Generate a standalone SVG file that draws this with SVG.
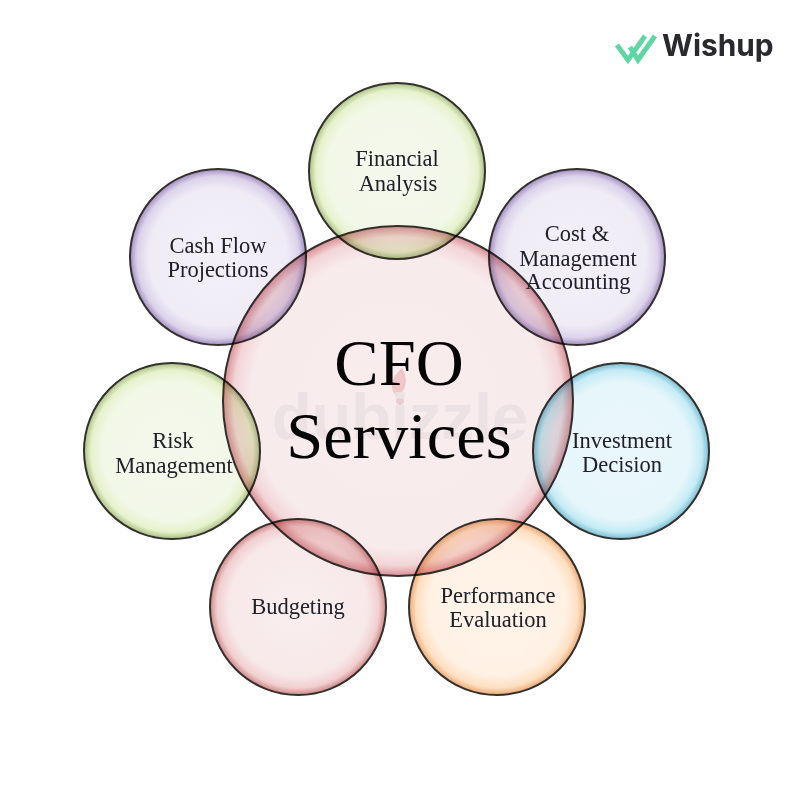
<svg xmlns="http://www.w3.org/2000/svg" width="800" height="811" viewBox="0 0 800 811">
<style>
.c{stroke:#33302e;stroke-width:2;mix-blend-mode:multiply}
.t{font-family:"Liberation Serif","Times New Roman",serif;font-size:22.5px;fill:#20202a;text-anchor:middle}
.big{font-family:"Liberation Serif","Times New Roman",serif;font-size:66.5px;fill:#050505;text-anchor:middle}
</style>
<defs>
<radialGradient id="gc"><stop offset="0" stop-color="#f8eced"/><stop offset=".84" stop-color="#f8ebec"/><stop offset=".94" stop-color="#f3d5d7"/><stop offset="1" stop-color="#d98f95"/></radialGradient>
<radialGradient id="gg"><stop offset="0" stop-color="#f3f8ec"/><stop offset=".78" stop-color="#f2f8e8"/><stop offset=".92" stop-color="#e6f2cc"/><stop offset="1" stop-color="#aabf84"/></radialGradient>
<radialGradient id="gp"><stop offset="0" stop-color="#f3f0f8"/><stop offset=".78" stop-color="#f0ecf6"/><stop offset=".92" stop-color="#dcd2ea"/><stop offset="1" stop-color="#a08dbf"/></radialGradient>
<radialGradient id="gb"><stop offset="0" stop-color="#eaf7fb"/><stop offset=".78" stop-color="#e6f6fb"/><stop offset=".92" stop-color="#c4ebf5"/><stop offset="1" stop-color="#78bbd2"/></radialGradient>
<radialGradient id="go"><stop offset="0" stop-color="#fff4ea"/><stop offset=".78" stop-color="#fff1e4"/><stop offset=".92" stop-color="#fedfc0"/><stop offset="1" stop-color="#eaa974"/></radialGradient>
<radialGradient id="gr"><stop offset="0" stop-color="#f9eeee"/><stop offset=".78" stop-color="#f8e9e9"/><stop offset=".92" stop-color="#f1cfd0"/><stop offset="1" stop-color="#ce8686"/></radialGradient>
</defs>
<rect width="800" height="811" fill="#fff"/>
<g id="logo">
<path d="M617 45 L628 60 L645 36 M630 47 L638 60 L655 36" fill="none" stroke="#5fd6a4" stroke-width="5"/>
<text x="662" y="56" font-family="Inter,'Liberation Sans',sans-serif" font-size="29.8" font-weight="700" fill="#2a2a2e">Wishup</text>
</g>
<g id="node-center">
<circle class="c" cx="398" cy="401" r="175" fill="url(#gc)"/>
</g>
<g id="watermark">
<path d="M402 368 C394 376 387 384 396 396 C406 392 409 380 402 368Z" fill="#f1c6c9"/>
<circle cx="400" cy="401" r="4" fill="#e6cfd2"/>
<text x="400" y="439" font-family="'Liberation Sans',sans-serif" font-size="65" font-weight="700" fill="#ece1e3" text-anchor="middle">dubizzle</text>
</g>
<g id="node-financial"><circle class="c" cx="397" cy="171" r="88" fill="url(#gg)"/></g>
<g id="node-cost"><circle class="c" cx="577" cy="257" r="88" fill="url(#gp)"/></g>
<g id="node-investment"><circle class="c" cx="621" cy="451" r="88" fill="url(#gb)"/></g>
<g id="node-performance"><circle class="c" cx="497" cy="607" r="88" fill="url(#go)"/></g>
<g id="node-budgeting"><circle class="c" cx="298" cy="607" r="88" fill="url(#gr)"/></g>
<g id="node-risk"><circle class="c" cx="172" cy="451" r="88" fill="url(#gg)"/></g>
<g id="node-cash"><circle class="c" cx="218" cy="257" r="88" fill="url(#gp)"/></g>
<g id="labels">
<text class="big" x="399" y="385">CFO</text>
<text class="big" x="399" y="458">Services</text>
<text class="t" x="397" y="166">Financial</text>
<text class="t" x="398" y="191">Analysis</text>
<text class="t" x="577" y="241">Cost &amp;</text>
<text class="t" x="578" y="266">Management</text>
<text class="t" x="578" y="289">Accounting</text>
<text class="t" x="622" y="448">Investment</text>
<text class="t" x="622" y="472">Decision</text>
<text class="t" x="498" y="603">Performance</text>
<text class="t" x="498" y="627">Evaluation</text>
<text class="t" x="298" y="614">Budgeting</text>
<text class="t" x="173" y="448">Risk</text>
<text class="t" x="174" y="473">Management</text>
<text class="t" x="218" y="253">Cash Flow</text>
<text class="t" x="218" y="277">Projections</text>
</g>
</svg>
